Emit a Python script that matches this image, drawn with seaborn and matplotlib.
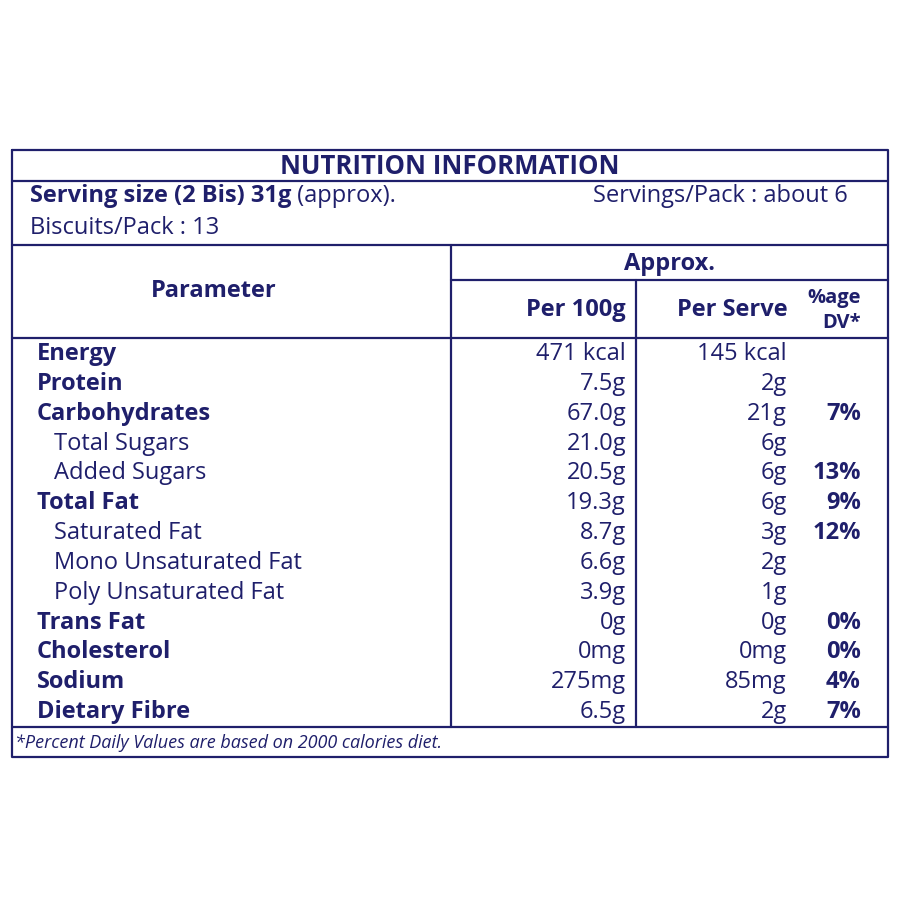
import matplotlib
matplotlib.use("Agg")
import matplotlib.pyplot as plt
import seaborn as sns

# -----------------------
# Table data
# -----------------------
params = ["Energy", "Protein", "Carbohydrates", "Total Sugars", "Added Sugars",
          "Total Fat", "Saturated Fat", "Mono Unsaturated Fat", "Poly Unsaturated Fat",
          "Trans Fat", "Cholesterol", "Sodium", "Dietary Fibre"]
is_main = [True, True, True, False, False, True, False, False, False, True, True, True, True]
per_100g = ["471 kcal", "7.5g", "67.0g", "21.0g", "20.5g", "19.3g", "8.7g",
            "6.6g", "3.9g", "0g", "0mg", "275mg", "6.5g"]
per_serve = ["145 kcal", "2g", "21g", "6g", "6g", "6g", "3g",
             "2g", "1g", "0g", "0mg", "85mg", "2g"]
pct_dv = ["", "", "7%", "", "13%", "9%", "12%", "", "", "0%", "0%", "4%", "7%"]

title = "NUTRITION INFORMATION"
serving_bold = "Serving size (2 Bis) 31g"
serving_rest = " (approx)."
servings_pack = "Servings/Pack : about 6"
biscuits_pack = "Biscuits/Pack : 13"
footnote = "*Percent Daily Values are based on 2000 calories diet."

# -----------------------
# Drawing
# -----------------------
sns.set_style("white")
plt.rcParams['font.family'] = ['Open Sans', 'DejaVu Sans']
navy = "#1f1f6b"
fs = 17

fig = plt.figure(figsize=(9, 9), dpi=100)
ax = fig.add_axes([0, 0, 1, 1])
ax.set_xlim(0, 900)
ax.set_ylim(900, 0)
ax.axis("off")

lw = 1.6
# outer box
ax.plot([12, 888, 888, 12, 12], [150, 150, 757, 757, 150], color=navy, lw=lw)
# horizontal rules
for y, x0, x1 in [(181, 12, 888), (245, 12, 888), (280, 451, 888),
                  (338, 12, 888), (727, 12, 888)]:
    ax.plot([x0, x1], [y, y], color=navy, lw=lw)
# vertical rules
ax.plot([451, 451], [245, 727], color=navy, lw=lw)
ax.plot([636, 636], [280, 727], color=navy, lw=lw)

ax.text(450, 166, title, color=navy, fontsize=18.5, fontweight="bold",
        ha="center", va="center")
t = ax.text(30, 196, serving_bold, color=navy, fontsize=fs, fontweight="bold",
            ha="left", va="center")
ax.annotate(serving_rest, xy=(1, 0.5), xycoords=t, color=navy, fontsize=fs,
            ha="left", va="center")
ax.text(848, 196, servings_pack, color=navy, fontsize=fs, ha="right", va="center")
ax.text(30, 228, biscuits_pack, color=navy, fontsize=fs, ha="left", va="center")

# header
ax.text(214, 291, "Parameter", color=navy, fontsize=fs, fontweight="bold",
        ha="center", va="center")
ax.text(670, 264, "Approx.", color=navy, fontsize=fs, fontweight="bold",
        ha="center", va="center")
ax.text(626, 310, "Per 100g", color=navy, fontsize=fs, fontweight="bold",
        ha="right", va="center")
ax.text(732, 310, "Per Serve", color=navy, fontsize=fs, fontweight="bold",
        ha="center", va="center")
ax.text(861, 298, "%age", color=navy, fontsize=14.5, fontweight="bold",
        ha="right", va="center")
ax.text(861, 323, "DV*", color=navy, fontsize=14.5, fontweight="bold",
        ha="right", va="center")

# rows
row_y0, row_h = 354, 29.85
for i, name in enumerate(params):
    y = row_y0 + i * row_h
    if is_main[i]:
        ax.text(37, y, name, color=navy, fontsize=fs, fontweight="bold",
                ha="left", va="center")
    else:
        ax.text(54, y, name, color=navy, fontsize=fs, ha="left", va="center")
    ax.text(626, y, per_100g[i], color=navy, fontsize=fs, ha="right", va="center")
    ax.text(787, y, per_serve[i], color=navy, fontsize=fs, ha="right", va="center")
    if pct_dv[i]:
        ax.text(861, y, pct_dv[i], color=navy, fontsize=fs, fontweight="bold",
                ha="right", va="center")

ax.text(15, 743, footnote, color=navy, fontsize=13, fontstyle="italic",
        ha="left", va="center")

fig.savefig("out.png", dpi=100, facecolor="white")
